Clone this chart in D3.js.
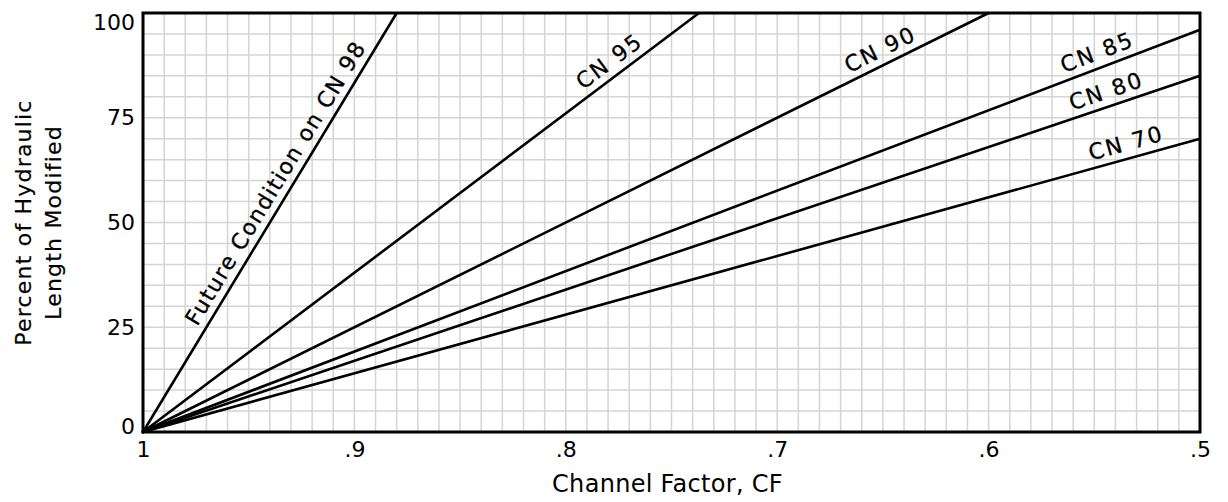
<!DOCTYPE html>
<html>
<head>
<meta charset="utf-8">
<script src="https://cdn.jsdelivr.net/npm/d3@7"></script>
<style>
  html, body { margin: 0; padding: 0; background: #fff; }
  svg { display: block; }
  text { font-family: "DejaVu Sans", sans-serif; fill: #000; }
</style>
</head>
<body>
<svg id="chart" width="1228" height="502"></svg>
<script>
// ---- data ----
const seriesNames = ["Future Condition on CN 98", "CN 95", "CN 90", "CN 85", "CN 80", "CN 70"];
// each line: [channel factor, percent] endpoints
const lineFuture98 = [[1, 0], [0.88, 100]];
const lineCN95 = [[1, 0], [0.737, 100]];
const lineCN90 = [[1, 0], [0.6, 100]];
const lineCN85 = [[1, 0], [0.5, 96]];
const lineCN80 = [[1, 0], [0.5, 85]];
const lineCN70 = [[1, 0], [0.5, 70]];
const seriesLines = [lineFuture98, lineCN95, lineCN90, lineCN85, lineCN80, lineCN70];
// channel factor at which each label sits along its line
const labelAtCF = [0.931, 0.775, 0.648, 0.546, 0.542, 0.533];

const xTickValues = [1, 0.9, 0.8, 0.7, 0.6, 0.5];
const xTickLabels = ["1", ".9", ".8", ".7", ".6", ".5"];
const yTickValues = [0, 25, 50, 75, 100];
const yTickLabels = ["0", "25", "50", "75", "100"];
const xTitle = "Channel Factor, CF";
const yTitleLines = ["Percent of Hydraulic", "Length Modified"];

// ---- layout ----
const m = { left: 143, right: 1200, top: 13, bottom: 432 };
const svg = d3.select("#chart");
const x = d3.scaleLinear().domain([1, 0.5]).range([m.left, m.right]);
const y = d3.scaleLinear().domain([0, 100]).range([m.bottom, m.top]);

// grid
const grid = svg.append("g").attr("stroke", "#d4d4d4").attr("stroke-width", 1.5);
grid.selectAll("line.v").data(d3.range(51).map(i => 1 - i * 0.01))
  .join("line").attr("class", "v")
  .attr("x1", d => x(d)).attr("x2", d => x(d))
  .attr("y1", y(0)).attr("y2", y(100));
grid.selectAll("line.h").data(d3.range(21).map(i => i * 5))
  .join("line").attr("class", "h")
  .attr("x1", x(1)).attr("x2", x(0.5))
  .attr("y1", d => y(d)).attr("y2", d => y(d));

// lines
const lineGen = d3.line().x(d => x(d[0])).y(d => y(d[1]));
svg.append("g").selectAll("path").data(seriesLines).join("path")
  .attr("d", lineGen)
  .attr("fill", "none").attr("stroke", "#000").attr("stroke-width", 2.6)
  .attr("stroke-linecap", "round");

// frame
svg.append("rect")
  .attr("x", x(1)).attr("y", y(100))
  .attr("width", x(0.5) - x(1)).attr("height", y(0) - y(100))
  .attr("fill", "none").attr("stroke", "#000").attr("stroke-width", 3);

// line labels
seriesLines.forEach((pts, i) => {
  const [a, b] = pts;
  const t = (labelAtCF[i] - a[0]) / (b[0] - a[0]);
  const cf = labelAtCF[i];
  const val = a[1] + t * (b[1] - a[1]);
  const px = x(cf), py = y(val);
  const ang = Math.atan2(y(b[1]) - y(a[1]), x(b[0]) - x(a[0])) * 180 / Math.PI;
  svg.append("text")
    .attr("transform", `translate(${px},${py}) rotate(${ang})`)
    .attr("y", -8)
    .attr("text-anchor", "middle")
    .attr("font-size", 22)
    .attr("letter-spacing", i === 0 ? 1.5 : 2)
    .attr("stroke", "#000").attr("stroke-width", 0.3)
    .text(seriesNames[i]);
});

// axes tick labels
const xAxis = d3.axisBottom(x).tickValues(xTickValues)
  .tickFormat((d, i) => xTickLabels[i]).tickSize(0).tickPadding(9);
const gx = svg.append("g").attr("transform", `translate(0,${m.bottom})`).call(xAxis);
gx.select(".domain").remove();
gx.selectAll("text").attr("font-size", 22).attr("font-family", "DejaVu Sans").attr("fill", "#000");

const yAxis = d3.axisLeft(y).tickValues(yTickValues)
  .tickFormat((d, i) => yTickLabels[i]).tickSize(0).tickPadding(8);
const gy = svg.append("g").attr("transform", `translate(${m.left},0)`).call(yAxis);
gy.select(".domain").remove();
gy.selectAll("text").attr("font-size", 22).attr("font-family", "DejaVu Sans").attr("fill", "#000")
  .attr("dy", d => d === 100 ? "0.75em" : d === 0 ? "0.05em" : "0.32em");

// titles
svg.append("text")
  .attr("x", (m.left + m.right) / 2 - 4).attr("y", 492)
  .attr("text-anchor", "middle").attr("font-size", 24).attr("letter-spacing", 0.3)
  .text(xTitle);

const yc = (m.top + m.bottom) / 2;
yTitleLines.forEach((s, i) => {
  svg.append("text")
    .attr("transform", `translate(${31 + i * 30},${yc + 0}) rotate(-90)`)
    .attr("text-anchor", "middle").attr("font-size", 22).attr("letter-spacing", 1.2)
    .attr("stroke", "#000").attr("stroke-width", 0.2)
    .text(s);
});
</script>
</body>
</html>
